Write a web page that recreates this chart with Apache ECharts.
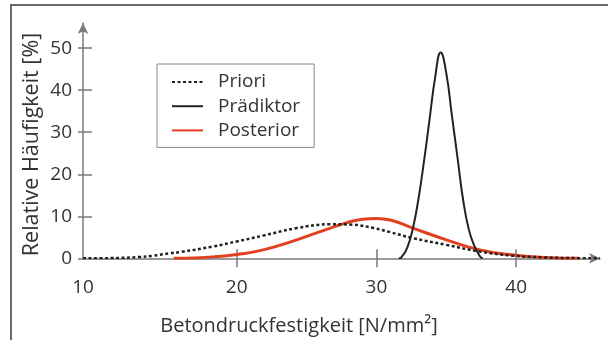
<!DOCTYPE html>
<html>
<head>
<meta charset="utf-8">
<script src="https://cdn.jsdelivr.net/npm/echarts@6/dist/echarts.min.js"></script>
<style>
  html, body { margin: 0; padding: 0; background: #fff; }
  #chart { width: 608px; height: 340px; }
</style>
</head>
<body>
<div id="chart"></div>
<script>
// values (x in N/mm², y in %)
var prioriX = [9, 11, 13, 14, 15.2, 16, 18.3, 20, 21.9, 24.3, 26.7, 28.3, 29.8, 31, 32.6, 35, 37.4, 39.8, 42.1, 44, 46];
var prioriY = [0, 0.05, 0.3, 0.6, 1.2, 1.5, 2.8, 4.0, 5.4, 7.2, 8.1, 8.0, 7.2, 6.2, 4.8, 3.2, 1.6, 0.6, 0.2, 0.05, 0];

var praediktorX = [31.6, 31.8, 32.2, 32.6, 33.0, 33.4, 33.8, 34.2, 34.6, 35.0, 35.4, 35.8, 36.2, 36.6, 37.0, 37.4, 37.6];
var praediktorY = [0, 0.3, 2.5, 7, 14, 23, 33, 43, 49, 44, 34, 24, 14, 7, 3, 0.5, 0];

var posteriorX = [15.5, 17, 18.5, 20, 21.9, 24.3, 26.7, 27.9, 29, 30, 31, 32.6, 35, 37.4, 39.8, 42.1, 44.5];
var posteriorY = [0, 0.1, 0.4, 0.9, 2.0, 4.4, 7.2, 8.5, 9.3, 9.5, 9.1, 7.2, 4.4, 2.0, 0.8, 0.2, 0];

var xTicks = [20, 30, 40];
var xLabels = [9, 20, 30, 40];   // the first label sits at the origin and reads "10"
var yTicks = [0, 10, 20, 30, 40, 50];

function pairs(xs, ys) {
  return xs.map(function (x, i) { return [x, ys[i]]; });
}

var axisGray = '#7a7a7a';
var font = '"Open Sans", "DejaVu Sans", sans-serif';

var chart = echarts.init(document.getElementById('chart'));

chart.setOption({
  animation: false,
  grid: { left: 83, right: 8, top: 23, bottom: 81.7 },
  legend: {
    orient: 'vertical',
    left: 157,
    top: 64,
    padding: [8, 14, 7, 14],
    itemGap: 4.2,
    itemWidth: 31,
    itemHeight: 20,
    borderColor: '#888',
    borderWidth: 1,
    selectedMode: false,
    itemStyle: { opacity: 0 },
    textStyle: { fontFamily: font, fontSize: 19, lineHeight: 20, color: '#333', padding: [0, 0, 0, 10] },
    data: ['Priori', 'Prädiktor', 'Posterior']
  },
  xAxis: [{
    type: 'value',
    min: 9,
    max: 46,
    axisLine: { lineStyle: { color: axisGray, width: 1.5 }, symbol: ['none', 'arrow'], symbolSize: [8, 11] },
    axisTick: { show: true, length: 9, customValues: xTicks, lineStyle: { color: axisGray, width: 1.5 } },
    axisLabel: {
      customValues: xLabels,
      margin: 20,
      fontFamily: font, fontSize: 19, color: '#333',
      formatter: function (v) { return v === 9 ? '10' : String(v); }
    },
    splitLine: { show: false }
  }, {
    type: 'value',
    min: 9,
    max: 46,
    position: 'bottom',
    axisLine: { show: false },
    axisTick: { show: true, inside: true, length: 9, customValues: xTicks, lineStyle: { color: axisGray, width: 1.5 } },
    axisLabel: { show: false },
    splitLine: { show: false }
  }],
  yAxis: [{
    type: 'value',
    min: 0,
    max: 56,
    axisLine: { show: true, lineStyle: { color: axisGray, width: 1.5 }, symbol: ['none', 'arrow'], symbolSize: [8, 11] },
    axisTick: { show: true, length: 5, customValues: yTicks, lineStyle: { color: axisGray, width: 1.5 } },
    axisLabel: { customValues: yTicks, margin: 11, fontFamily: font, fontSize: 19, color: '#333' },
    splitLine: { show: false }
  }, {
    type: 'value',
    min: 0,
    max: 56,
    position: 'left',
    axisLine: { show: false },
    axisTick: { show: true, inside: true, length: 9, customValues: yTicks.slice(1), lineStyle: { color: axisGray, width: 1.5 } },
    axisLabel: { show: false },
    splitLine: { show: false }
  }],
  series: [{
    name: 'Priori',
    type: 'line',
    smooth: 0.4,
    symbol: 'none',
    z: 3,
    lineStyle: { color: '#222', width: 2.5, type: [3, 2.5] },
    itemStyle: { color: '#222' },
    data: pairs(prioriX, prioriY)
  }, {
    name: 'Prädiktor',
    type: 'line',
    smooth: 0.5,
    symbol: 'none',
    z: 4,
    lineStyle: { color: '#222', width: 2 },
    itemStyle: { color: '#222' },
    data: pairs(praediktorX, praediktorY)
  }, {
    name: 'Posterior',
    type: 'line',
    smooth: 0.5,
    symbol: 'none',
    z: 2,
    lineStyle: { color: '#e2401f', width: 3 },
    itemStyle: { color: '#e2401f' },
    data: pairs(posteriorX, posteriorY)
  }],
  graphic: [
    { type: 'line', shape: { x1: 10, y1: 5, x2: 608, y2: 5 }, style: { stroke: '#6a6a6a', lineWidth: 2 } },
    { type: 'line', shape: { x1: 11, y1: 4, x2: 11, y2: 340 }, style: { stroke: '#6a6a6a', lineWidth: 2 } },
    {
      type: 'text', x: 31.5, y: 144.5, rotation: Math.PI / 2,
      style: {
        text: 'Relative Häufigkeit [%]',
        font: '21.5px ' + font, fill: '#333',
        textAlign: 'center', textVerticalAlign: 'middle'
      }
    },
    {
      type: 'text', x: 299, y: 326,
      style: {
        text: 'Betondruckfestigkeit [N/mm²]',
        font: '20px ' + font, fill: '#333',
        textAlign: 'center', textVerticalAlign: 'middle'
      }
    }
  ]
});
</script>
</body>
</html>
